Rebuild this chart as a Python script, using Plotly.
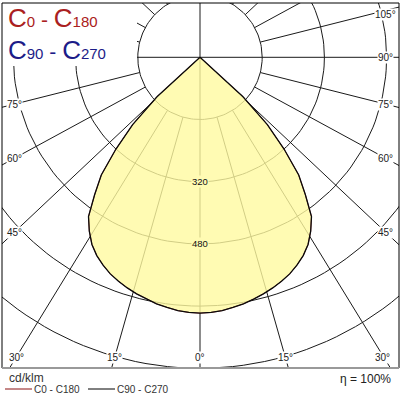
import math
import plotly.graph_objects as go

# ---------------- data ----------------
gamma_deg = [0, 2.5, 5, 7.5, 10, 12.5, 15, 17.5, 20, 22.5, 25, 27.5, 30, 32.5, 35, 37.5,
             40, 42.5, 45, 47.5, 50, 52.5, 55, 57.5, 60, 62.5, 65, 67.5, 70, 72.5, 75,
             77.5, 80, 82.5, 85, 87.5, 90]
i_c0 = [658, 657, 654, 649, 644, 637, 630, 622, 613, 603, 590, 575, 556, 530, 500, 445,
        395, 320, 245, 150, 0, 0, 0, 0, 0, 0, 0, 0, 0, 0, 0, 0, 0, 0, 0, 0, 0]
i_c180 = [658, 657, 654, 649, 644, 637, 630, 622, 613, 603, 590, 575, 556, 530, 500, 445,
          395, 320, 245, 150, 0, 0, 0, 0, 0, 0, 0, 0, 0, 0, 0, 0, 0, 0, 0, 0, 0]
i_c90 = [658, 657, 654, 649, 644, 637, 630, 622, 613, 603, 590, 575, 556, 530, 500, 445,
         395, 320, 245, 150, 0, 0, 0, 0, 0, 0, 0, 0, 0, 0, 0, 0, 0, 0, 0, 0, 0]
i_c270 = [658, 657, 654, 649, 644, 637, 630, 622, 613, 603, 590, 575, 556, 530, 500, 445,
          395, 320, 245, 150, 0, 0, 0, 0, 0, 0, 0, 0, 0, 0, 0, 0, 0, 0, 0, 0, 0]

ring_values = [160, 320, 480, 640, 800, 960]
ring_labels = [320, 480]
angle_ticks = [0, 15, 30, 45, 60, 75, 90, 105]
unit_text = "cd/klm"
plane_names = ["C0 - C180", "C90 - C270"]
efficiency_text = "η = 100%"

# ---------------- geometry / style ----------------
S = 62.2 / 160.0          # px per cd/klm
CX, CY = 200.0, 57.3      # centre in px
PX0, PX1, PY0, PY1 = 2, 399, 3, 368
K = 0.942                 # drawing squash of the radial grid lines


def dx(px):
    return (px - CX) / S


def dy(py):
    return (CY - py) / S


def paper_x(px):
    return (px - PX0) / (PX1 - PX0)


def paper_y(py):
    return (PY1 - py) / (PY1 - PY0)


def plane_xy(right, left):
    xs, ys = [], []
    for g, v in zip(reversed(gamma_deg), reversed(left)):
        a = math.radians(g)
        xs.append(-v * math.sin(a)); ys.append(-v * math.cos(a))
    for g, v in zip(gamma_deg[1:], right[1:]):
        a = math.radians(g)
        xs.append(v * math.sin(a)); ys.append(-v * math.cos(a))
    xs.append(xs[0]); ys.append(ys[0])
    return xs, ys


fig = go.Figure()

# grid circles
gx, gy = [], []
for R in ring_values:
    for i in range(0, 361, 2):
        t = math.radians(i)
        gx.append(R * math.cos(t)); gy.append(R * math.sin(t))
    gx.append(None); gy.append(None)
# radial lines
for a in range(0, 360, 15):
    r0 = 0 if a % 90 == 0 else ring_values[0]
    ux, uy = math.sin(math.radians(a)), -K * math.cos(math.radians(a))
    n = math.hypot(ux, uy)
    ux, uy = ux / n, uy / n
    gx += [r0 * ux, 1400 * ux, None]
    gy += [r0 * uy, 1400 * uy, None]
fig.add_trace(go.Scatter(x=gx, y=gy, mode="lines", line=dict(color="#1a1a1a", width=1),
                         hoverinfo="skip"))

# distribution curves
x0, y0 = plane_xy(i_c0, i_c180)
fig.add_trace(go.Scatter(x=x0, y=y0, mode="lines", fill="toself",
                         fillcolor="rgba(255,250,160,0.8)",
                         line=dict(color="#9B1C1C", width=0.8), name=plane_names[0]))
x1, y1 = plane_xy(i_c90, i_c270)
fig.add_trace(go.Scatter(x=x1, y=y1, mode="lines",
                         line=dict(color="#0a0a0a", width=1.3), name=plane_names[1]))

ann = []
# ring value labels
for v in ring_labels:
    ann.append(dict(x=0, y=-v, xref="x", yref="y", text=str(v), showarrow=False,
                    font=dict(family="Liberation Sans, Arial", size=9.5, color="#111"),
                    bgcolor="#FFFBB3", borderpad=0))

# angle labels
for a in angle_ticks:
    t = math.radians(a)
    if a <= 30:
        for sgn in ([1] if a == 0 else [-1, 1]):
            off = 300 * math.tan(t) / K
            px = CX + sgn * off
            px = min(max(px, 16), 382)
            ann.append(dict(x=dx(px), y=dy(357), xref="x", yref="y", text=f"{a}°",
                            showarrow=False, bgcolor="white", borderpad=0,
                            font=dict(family="Liberation Sans, Arial", size=10, color="#222")))
    else:
        for sgn in [-1, 1]:
            if sgn < 0 and a >= 90:
                continue
            py = CY + 186 * K * math.cos(t) / math.sin(t)
            py = max(py, 14)
            px = 385 if sgn > 0 else 14
            ann.append(dict(x=dx(px), y=dy(py), xref="x", yref="y", text=f"{a}°",
                            showarrow=False, bgcolor="white", borderpad=0,
                            font=dict(family="Liberation Sans, Arial", size=10, color="#222")))

# title block
big, small, mid = 26, 15, 21


def title_html(name):
    c1, rest = name.split(" - ")
    return (f"<span style='font-size:{big}px'>C</span><span style='font-size:{small}px'>{c1[1:]}</span>"
            f"<span style='font-size:{mid}px'> - </span>"
            f"<span style='font-size:{big}px'>C</span><span style='font-size:{small}px'>{rest[1:]}</span>")


ann.append(dict(x=paper_x(6), y=paper_y(18), xref="paper", yref="paper", xanchor="left",
                yanchor="middle", text=title_html(plane_names[0]), showarrow=False,
                font=dict(family="Liberation Sans, Arial", size=big, color="#AA2020")))
ann.append(dict(x=paper_x(6), y=paper_y(50), xref="paper", yref="paper", xanchor="left",
                yanchor="middle", text=title_html(plane_names[1]), showarrow=False,
                font=dict(family="Liberation Sans, Arial", size=big, color="#1C1C88")))

# bottom texts
ann.append(dict(x=paper_x(7), y=paper_y(378), xref="paper", yref="paper", xanchor="left",
                yanchor="middle", text=unit_text, showarrow=False,
                font=dict(family="Liberation Sans, Arial", size=12, color="#333")))
ann.append(dict(x=paper_x(32), y=paper_y(389), xref="paper", yref="paper", xanchor="left",
                yanchor="middle", text=plane_names[0], showarrow=False,
                font=dict(family="Liberation Sans, Arial", size=10, color="#333")))
ann.append(dict(x=paper_x(115), y=paper_y(389), xref="paper", yref="paper", xanchor="left",
                yanchor="middle", text=plane_names[1], showarrow=False,
                font=dict(family="Liberation Sans, Arial", size=10, color="#333")))
ann.append(dict(x=paper_x(393), y=paper_y(379), xref="paper", yref="paper", xanchor="right",
                yanchor="middle", text=efficiency_text, showarrow=False,
                font=dict(family="Liberation Sans, Arial", size=12, color="#222")))

shapes = [
    dict(type="rect", xref="paper", yref="paper", x0=0, x1=paper_x(137), y0=paper_y(66), y1=1,
         fillcolor="white", line=dict(width=0), layer="above"),
    dict(type="rect", xref="paper", yref="paper", x0=0, x1=1, y0=0, y1=1,
         line=dict(color="#000", width=1), layer="above"),
    dict(type="line", xref="paper", yref="paper", x0=0, x1=1, y0=0, y1=0,
         line=dict(color="#999", width=2), layer="above"),
    dict(type="line", xref="paper", yref="paper", x0=paper_x(5), x1=paper_x(32),
         y0=paper_y(389), y1=paper_y(389), line=dict(color="#8B1010", width=1)),
    dict(type="line", xref="paper", yref="paper", x0=paper_x(88), x1=paper_x(115),
         y0=paper_y(389), y1=paper_y(389), line=dict(color="#000", width=1)),
]

fig.update_layout(
    width=400, height=400,
    margin=dict(l=PX0, r=400 - PX1, t=PY0, b=400 - PY1),
    paper_bgcolor="white", plot_bgcolor="white",
    showlegend=False,
    xaxis=dict(range=[dx(PX0), dx(PX1)], visible=False, fixedrange=True),
    yaxis=dict(range=[dy(PY1), dy(PY0)], visible=False, fixedrange=True),
    annotations=ann, shapes=shapes,
)

fig.write_html(
    "out.html",
    config={"displayModeBar": False},
    post_script="document.body.style.margin='0';document.body.style.padding='0';"
                "document.body.style.overflow='hidden';",
)
